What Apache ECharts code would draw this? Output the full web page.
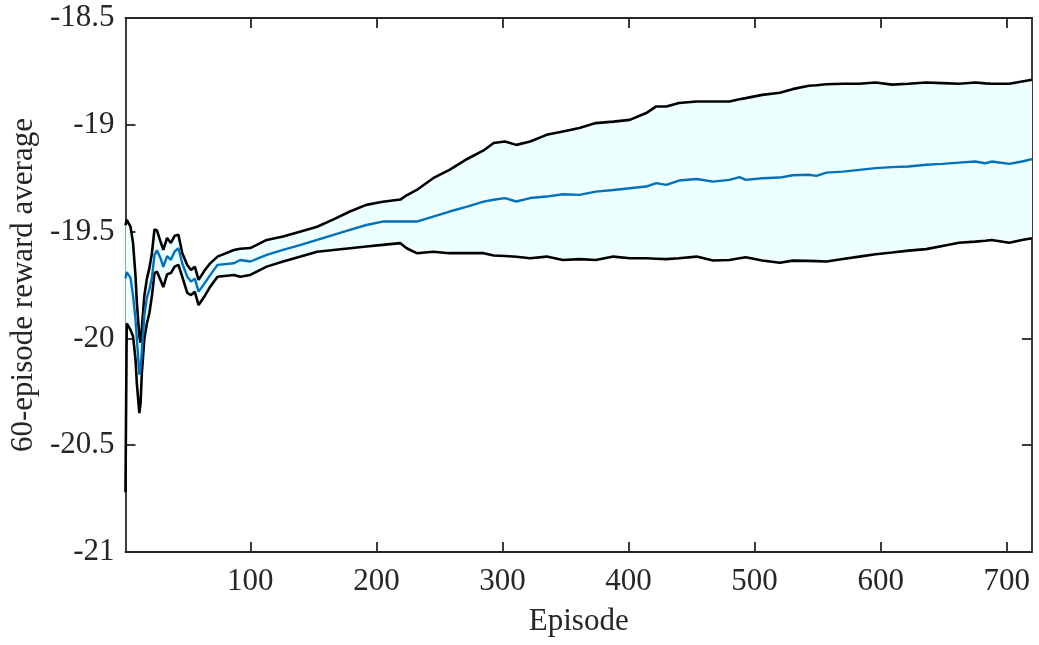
<!DOCTYPE html>
<html>
<head>
<meta charset="utf-8">
<script src="https://cdn.jsdelivr.net/npm/echarts@6/dist/echarts.min.js"></script>
<style>
html,body{margin:0;padding:0;background:#fff;}
#chart{width:1039px;height:645px;}
</style>
</head>
<body>
<div id="chart"></div>
<script>
const episodes = [1, 2, 5, 7, 9, 10, 12, 13, 14, 16, 18, 20, 22, 24, 26, 29, 31, 34, 37, 40, 43, 46, 50, 53, 56, 59, 64, 68, 74, 87, 92, 100, 113, 126, 140, 153, 166, 179, 192, 205, 219, 224, 232, 245, 258, 272, 285, 293, 302, 311, 322, 335, 348, 361, 374, 388, 401, 414, 422, 430, 440, 454, 467, 480, 488, 493, 506, 520, 530, 543, 549, 557, 570, 583, 596, 609, 622, 636, 649, 662, 675, 683, 688, 702, 712, 720];

const upperVals = [-19.47, -19.445, -19.477, -19.553, -19.711, -19.83, -19.99, -20.02, -19.95, -19.80, -19.72, -19.67, -19.60, -19.49, -19.495, -19.55, -19.586, -19.53, -19.553, -19.52, -19.515, -19.60, -19.656, -19.68, -19.664, -19.726, -19.68, -19.65, -19.617, -19.586, -19.58, -19.577, -19.539, -19.523, -19.50, -19.477, -19.443, -19.406, -19.375, -19.36, -19.35, -19.33, -19.305, -19.25, -19.211, -19.16, -19.12, -19.085, -19.078, -19.094, -19.078, -19.047, -19.031, -19.015, -18.992, -18.985, -18.977, -18.945, -18.914, -18.914, -18.898, -18.891, -18.891, -18.891, -18.88, -18.875, -18.86, -18.85, -18.833, -18.817, -18.815, -18.81, -18.808, -18.808, -18.802, -18.812, -18.808, -18.802, -18.805, -18.808, -18.802, -18.806, -18.808, -18.808, -18.797, -18.789];

const meanVals = [-19.72, -19.69, -19.717, -19.80, -19.914, -20.0, -20.17, -20.14, -20.06, -19.89, -19.81, -19.77, -19.715, -19.61, -19.587, -19.628, -19.665, -19.615, -19.632, -19.593, -19.578, -19.648, -19.711, -19.734, -19.72, -19.781, -19.74, -19.705, -19.656, -19.648, -19.633, -19.64, -19.609, -19.586, -19.562, -19.539, -19.515, -19.492, -19.469, -19.453, -19.453, -19.453, -19.453, -19.43, -19.406, -19.383, -19.36, -19.351, -19.343, -19.359, -19.343, -19.336, -19.325, -19.328, -19.313, -19.305, -19.297, -19.289, -19.273, -19.281, -19.261, -19.254, -19.266, -19.258, -19.245, -19.258, -19.25, -19.247, -19.236, -19.234, -19.239, -19.224, -19.219, -19.211, -19.203, -19.198, -19.195, -19.187, -19.183, -19.177, -19.172, -19.18, -19.172, -19.183, -19.172, -19.161];

const lowerVals = [-20.72, -19.93, -19.96, -19.99, -20.10, -20.21, -20.35, -20.30, -20.16, -20.0, -19.93, -19.88, -19.80, -19.694, -19.688, -19.73, -19.76, -19.70, -19.694, -19.664, -19.656, -19.711, -19.787, -19.797, -19.782, -19.844, -19.80, -19.76, -19.711, -19.703, -19.711, -19.703, -19.664, -19.64, -19.617, -19.594, -19.586, -19.578, -19.57, -19.562, -19.554, -19.578, -19.601, -19.594, -19.601, -19.601, -19.601, -19.612, -19.614, -19.618, -19.625, -19.617, -19.633, -19.629, -19.633, -19.617, -19.625, -19.625, -19.627, -19.629, -19.625, -19.617, -19.635, -19.633, -19.625, -19.62, -19.635, -19.646, -19.636, -19.637, -19.638, -19.64, -19.628, -19.617, -19.606, -19.598, -19.589, -19.582, -19.567, -19.552, -19.547, -19.543, -19.539, -19.552, -19.539, -19.531];

const xTickValues = [100, 200, 300, 400, 500, 600, 700];
const xAxisTitle = 'Episode';
const yAxisTitle = '60-episode reward average';

const pair = (vals) => episodes.map((e, i) => [e, vals[i]]);

const axisColor = '#262626';
const fontFamily = '"Liberation Serif", "Times New Roman", serif';

function renderBand(params, api) {
  if (params.dataIndex !== 0) return null;
  const top = episodes.map((e, i) => api.coord([e, upperVals[i]]));
  const bottom = episodes.map((e, i) => api.coord([e, lowerVals[i]])).reverse();
  return {
    type: 'polygon',
    shape: {points: top.concat(bottom)},
    style: {fill: '#EEFFFF', stroke: null}
  };
}

const chart = echarts.init(document.getElementById('chart'), null, {renderer: 'canvas'});
chart.setOption({
  animation: false,
  backgroundColor: '#ffffff',
  grid: {left: 125, right: 7, top: 18, bottom: 93, containLabel: false},
  xAxis: [
    {
      type: 'value', position: 'bottom', min: 1, max: 720,
      name: xAxisTitle, nameLocation: 'middle', nameGap: 54,
      nameTextStyle: {fontFamily: fontFamily, fontSize: 31, color: axisColor},
      axisLine: {show: true, onZero: false, lineStyle: {color: axisColor, width: 1.8}},
      axisTick: {show: true, inside: true, length: 10, customValues: xTickValues, lineStyle: {color: axisColor, width: 1.8}},
      axisLabel: {show: true, customValues: xTickValues, margin: 14, fontFamily: fontFamily, fontSize: 31, color: axisColor},
      splitLine: {show: false}
    },
    {
      type: 'value', position: 'top', min: 1, max: 720,
      axisLine: {show: true, onZero: false, lineStyle: {color: axisColor, width: 1.8}},
      axisTick: {show: true, inside: true, length: 10, customValues: xTickValues, lineStyle: {color: axisColor, width: 1.8}},
      axisLabel: {show: false},
      splitLine: {show: false}
    }
  ],
  yAxis: [
    {
      type: 'value', position: 'left', min: -21, max: -18.5, interval: 0.5,
      name: yAxisTitle, nameLocation: 'middle', nameGap: 82,
      nameTextStyle: {fontFamily: fontFamily, fontSize: 31, color: axisColor},
      axisLine: {show: true, onZero: false, lineStyle: {color: axisColor, width: 1.8}},
      axisTick: {show: true, inside: true, length: 10, lineStyle: {color: axisColor, width: 1.8}},
      axisLabel: {show: true, margin: 11, fontFamily: fontFamily, fontSize: 31, color: axisColor},
      splitLine: {show: false}
    },
    {
      type: 'value', position: 'right', min: -21, max: -18.5, interval: 0.5,
      axisLine: {show: true, onZero: false, lineStyle: {color: axisColor, width: 1.8}},
      axisTick: {show: true, inside: true, length: 10, lineStyle: {color: axisColor, width: 1.8}},
      axisLabel: {show: false},
      splitLine: {show: false}
    }
  ],
  series: [
    {
      name: 'band', type: 'custom', renderItem: renderBand, silent: true,
      data: [[episodes[0], meanVals[0]]], encode: {x: 0, y: 1}, z: 1
    },
    {
      name: 'upper', type: 'line', data: pair(upperVals), symbol: 'none',
      lineStyle: {color: '#000000', width: 2.6}, z: 3
    },
    {
      name: 'lower', type: 'line', data: pair(lowerVals), symbol: 'none',
      lineStyle: {color: '#000000', width: 2.6}, z: 3
    },
    {
      name: 'mean', type: 'line', data: pair(meanVals), symbol: 'none',
      lineStyle: {color: '#0072BD', width: 2.4}, z: 4
    }
  ]
});
</script>
</body>
</html>
